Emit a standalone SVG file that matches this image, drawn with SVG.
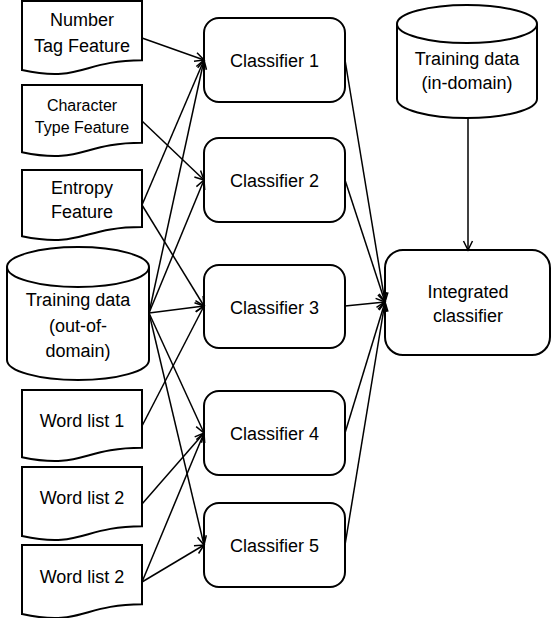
<svg xmlns="http://www.w3.org/2000/svg" width="552" height="618" viewBox="0 0 552 618">
  <style>
    .shape { fill: #ffffff; stroke: #000000; stroke-width: 2; }
    .lbl { font-family: "Liberation Sans", Arial, sans-serif; font-size: 18px; fill: #000000; text-anchor: middle; }
    .small { font-size: 16px; }
    .edge { fill: none; stroke: #000000; stroke-width: 1.5; marker-end: url(#arrow); }
  </style>
  <defs>
    <marker id="arrow" markerUnits="userSpaceOnUse" markerWidth="12" markerHeight="12" refX="10" refY="6" orient="auto">
      <path d="M1,1.5 L10,6 L1,10.5" fill="none" stroke="#000000" stroke-width="1.5"/>
    </marker>
  </defs>

  <rect width="552" height="618" fill="#ffffff"/>

  <!-- feature documents -->
  <g id="number-tag">
    <path class="shape" d="M22,1 H142 V60.3 C82,60.3 82,83 22,70.1 Z"/>
    <text class="lbl" x="82" y="26">Number</text>
    <text class="lbl" x="82" y="52">Tag Feature</text>
  </g>
  <g id="char-type">
    <path class="shape" d="M22,85 H142 V142.7 C82,142.7 82,164.7 22,152.2 Z"/>
    <text class="lbl small" x="82" y="111">Character</text>
    <text class="lbl small" x="82" y="133">Type Feature</text>
  </g>
  <g id="entropy">
    <path class="shape" d="M22,170 H142 V227 C82,227 82,248.6 22,236.3 Z"/>
    <text class="lbl" x="82" y="194">Entropy</text>
    <text class="lbl" x="82" y="218">Feature</text>
  </g>

  <!-- out-of-domain training data -->
  <g id="train-out">
    <path class="shape" d="M7,267 V360 A71,20 0 0 0 149,360 V267 A71,20 0 0 0 7,267 Z"/>
    <path class="shape" fill="none" d="M7,267 A71,20 0 0 0 149,267"/>
    <text class="lbl" x="78" y="306">Training data</text>
    <text class="lbl" x="78" y="332">(out-of-</text>
    <text class="lbl" x="78" y="357">domain)</text>
  </g>

  <!-- word lists -->
  <g id="word-list-1">
    <path class="shape" d="M22,390 H142 V447.7 C82,447.7 82,469.7 22,457.2 Z"/>
    <text class="lbl" x="82" y="427">Word list 1</text>
  </g>
  <g id="word-list-2a">
    <path class="shape" d="M22,467 H142 V526.3 C82,526.3 82,549 22,536.1 Z"/>
    <text class="lbl" x="82" y="504">Word list 2</text>
  </g>
  <g id="word-list-2b">
    <path class="shape" d="M22,545 H142 V604.3 C82,604.3 82,627 22,614.1 Z"/>
    <text class="lbl" x="82" y="583">Word list 2</text>
  </g>

  <!-- classifiers -->
  <g id="classifier-1">
    <rect class="shape" x="204" y="18" width="141" height="84" rx="15"/>
    <text class="lbl" x="274.5" y="67">Classifier 1</text>
  </g>
  <g id="classifier-2">
    <rect class="shape" x="204" y="138" width="141" height="84" rx="15"/>
    <text class="lbl" x="274.5" y="187">Classifier 2</text>
  </g>
  <g id="classifier-3">
    <rect class="shape" x="204" y="265" width="141" height="83" rx="15"/>
    <text class="lbl" x="274.5" y="314">Classifier 3</text>
  </g>
  <g id="classifier-4">
    <rect class="shape" x="204" y="391" width="141" height="84" rx="15"/>
    <text class="lbl" x="274.5" y="440">Classifier 4</text>
  </g>
  <g id="classifier-5">
    <rect class="shape" x="204" y="503" width="141" height="84" rx="15"/>
    <text class="lbl" x="274.5" y="552">Classifier 5</text>
  </g>

  <!-- in-domain training data -->
  <g id="train-in">
    <path class="shape" d="M397,24 V99 A70,19 0 0 0 537,99 V24 A70,19 0 0 0 397,24 Z"/>
    <path class="shape" fill="none" d="M397,24 A70,19 0 0 0 537,24"/>
    <text class="lbl" x="467" y="65">Training data</text>
    <text class="lbl" x="467" y="89">(in-domain)</text>
  </g>

  <!-- integrated classifier -->
  <g id="integrated">
    <rect class="shape" x="385" y="250" width="165" height="105" rx="18"/>
    <text class="lbl" x="468" y="298">Integrated</text>
    <text class="lbl" x="468" y="322">classifier</text>
  </g>

  <!-- connectors -->
  <g id="connectors">
    <line class="edge" x1="142" y1="38" x2="204" y2="60"/>
    <line class="edge" x1="142" y1="121" x2="204" y2="180"/>
    <line class="edge" x1="142" y1="205" x2="204" y2="60"/>
    <line class="edge" x1="142" y1="205" x2="204" y2="306"/>
    <line class="edge" x1="149" y1="313" x2="204" y2="60"/>
    <line class="edge" x1="149" y1="313" x2="204" y2="180"/>
    <line class="edge" x1="149" y1="313" x2="204" y2="306"/>
    <line class="edge" x1="149" y1="313" x2="204" y2="433"/>
    <line class="edge" x1="149" y1="313" x2="204" y2="545"/>
    <line class="edge" x1="142" y1="426" x2="204" y2="306"/>
    <line class="edge" x1="142" y1="504" x2="204" y2="433"/>
    <line class="edge" x1="142" y1="582" x2="204" y2="433"/>
    <line class="edge" x1="142" y1="582" x2="204" y2="545"/>
    <line class="edge" x1="345" y1="60" x2="385" y2="302"/>
    <line class="edge" x1="345" y1="180" x2="385" y2="302"/>
    <line class="edge" x1="345" y1="306" x2="385" y2="302"/>
    <line class="edge" x1="345" y1="433" x2="385" y2="302"/>
    <line class="edge" x1="345" y1="545" x2="385" y2="302"/>
    <line class="edge" x1="468" y1="118" x2="468" y2="250"/>
  </g>
</svg>
